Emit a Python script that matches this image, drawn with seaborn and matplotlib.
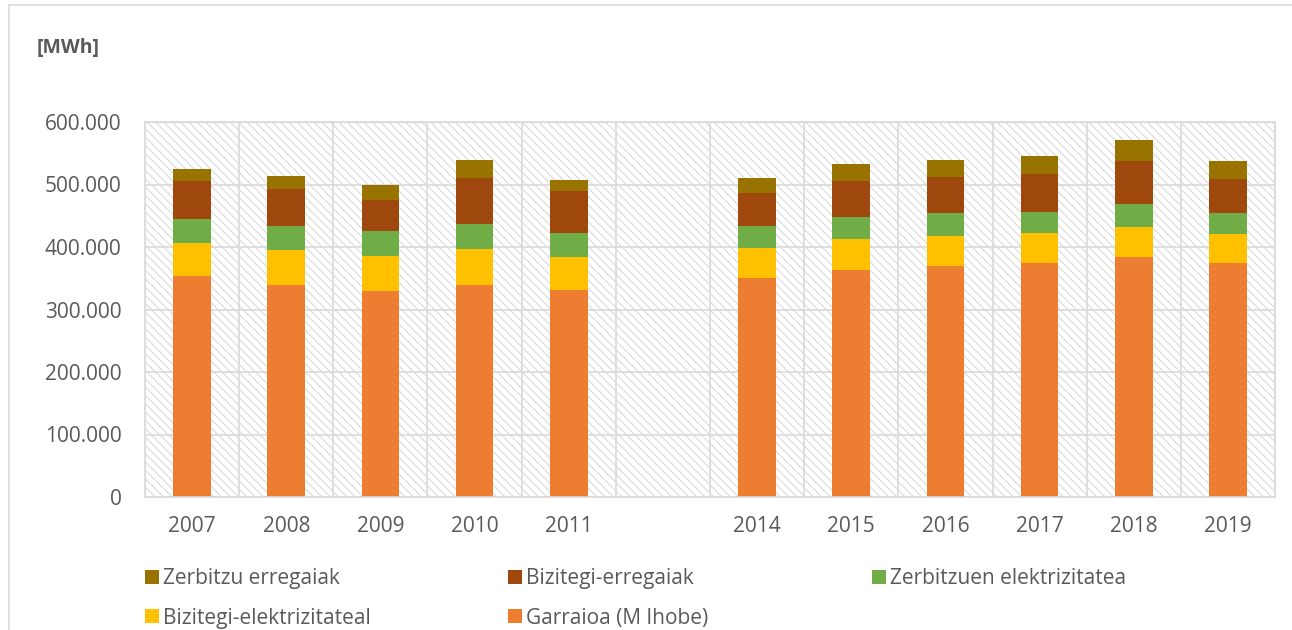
import numpy as np
import pandas as pd
import matplotlib
matplotlib.use("Agg")
import matplotlib.pyplot as plt
import seaborn as sns
from matplotlib.patches import Rectangle, Patch
from matplotlib.ticker import FuncFormatter, FixedLocator

# ---------------- data ----------------
years = ['2007', '2008', '2009', '2010', '2011', ' ', '2014', '2015', '2016', '2017', '2018', '2019']
garraioa = [353000, 340000, 330000, 340000, 331000, np.nan, 351000, 364000, 369000, 374000, 384000, 374000]
bizitegi_elek = [53000, 55000, 55500, 57000, 53000, np.nan, 48000, 49000, 48500, 48000, 48500, 47400]
zerbitzu_elek = [39000, 38000, 39500, 39500, 38000, np.nan, 34700, 35200, 36800, 34100, 35800, 33100]
bizitegi_erreg = [60000, 60000, 49600, 74000, 68000, np.nan, 52300, 57100, 57100, 60300, 68800, 54400]
zerbitzu_erreg = [20000, 21000, 25000, 29000, 18000, np.nan, 24500, 27200, 28200, 29300, 34600, 28800]

series_names = ['Garraioa (M Ihobe)', 'Bizitegi-elektrizitateal', 'Zerbitzuen elektrizitatea',
                'Bizitegi-erregaiak', 'Zerbitzu erregaiak']
series_vals = [garraioa, bizitegi_elek, zerbitzu_elek, bizitegi_erreg, zerbitzu_erreg]
colors = ['#ED7D31', '#FFC000', '#70AD47', '#9E480E', '#997300']
yticks = [0, 100000, 200000, 300000, 400000, 500000, 600000]

# ---------------- style ----------------
sns.set_style("white")
plt.rcParams['font.family'] = ['Open Sans', 'DejaVu Sans']
plt.rcParams['hatch.linewidth'] = 0.7
text_color = '#595959'
grid_color = '#D9D9D9'

fig = plt.figure(figsize=(12.92, 6.30), dpi=100)
ax = fig.add_axes([145/1292, 1 - 497/630, (1275 - 145)/1292, (497 - 122)/630])
ax.set_facecolor('white')

# hatched plot-area background
bg = Rectangle((0, 0), 1, 1, transform=ax.transAxes, facecolor='white',
               edgecolor='#D6D6D6', hatch='\\\\\\\\', linewidth=0, zorder=0.1)
ax.add_patch(bg)

# stacked bars (overdraw cumulative totals, top layer first)
cum = np.zeros(len(years))
cums = []
for v in series_vals:
    cum = cum + np.array(v, dtype=float)
    cums.append(cum.copy())
for name, c, col in reversed(list(zip(series_names, cums, colors))):
    d = pd.DataFrame({'year': years, 'value': c})
    sns.barplot(data=d, x='year', y='value', order=years, color=col, width=0.4,
                saturation=1, errorbar=None, ax=ax, zorder=2, linewidth=0)

# axes, grid
ax.set_xlim(-0.5, len(years) - 0.5)
ax.set_ylim(0, 600000)
ax.set_yticks(yticks)
ax.yaxis.set_major_formatter(FuncFormatter(lambda v, p: '0' if v == 0 else f'{int(v):,}'.replace(',', '.')))
ax.set_xticks(range(len(years)))
ax.set_xticklabels(years)
ax.xaxis.set_minor_locator(FixedLocator(np.arange(-0.5, len(years), 1.0)))
ax.grid(True, axis='y', which='major', color=grid_color, linewidth=1.2, zorder=0.5)
ax.grid(True, axis='x', which='minor', color=grid_color, linewidth=1.2, zorder=0.5)
ax.grid(False, axis='x', which='major')
ax.set_axisbelow(True)
for s in ax.spines.values():
    s.set_color(grid_color)
    s.set_linewidth(1.2)
ax.tick_params(axis='both', which='both', length=0, labelsize=15, colors=text_color)
ax.tick_params(axis='y', pad=17)
ax.tick_params(axis='x', pad=14)
ax.set_xlabel('')
ax.set_ylabel('')

# unit label
fig.text(37/1292, 1 - 48/630, '[MWh]', fontsize=14, fontweight='bold', color=text_color,
         ha='left', va='center')

# legends (three columns positioned like the original, rows filled left to right)
layout = [[4, 1], [3, 0], [2]]
xs = [145, 508, 872]
for xpix, idxs in zip(xs, layout):
    handles = [Patch(facecolor=colors[i], edgecolor='none') for i in idxs]
    labels = [series_names[i] for i in idxs]
    fig.legend(handles, labels, loc='upper left', bbox_to_anchor=(xpix/1292, 1 - 568/630),
               frameon=False, fontsize=15, handlelength=0.65, handleheight=0.65,
               handletextpad=0.2, labelspacing=0.9, borderpad=0, borderaxespad=0,
               labelcolor=text_color)

# outer chart border (left & top visible)
fig.patches.append(Rectangle((8.5/1292, -0.1), 1.2, 1.1 - 5.5/630, transform=fig.transFigure,
                             fill=False, edgecolor=grid_color, linewidth=1.2, figure=fig))

fig.savefig('out.png', dpi=100)
